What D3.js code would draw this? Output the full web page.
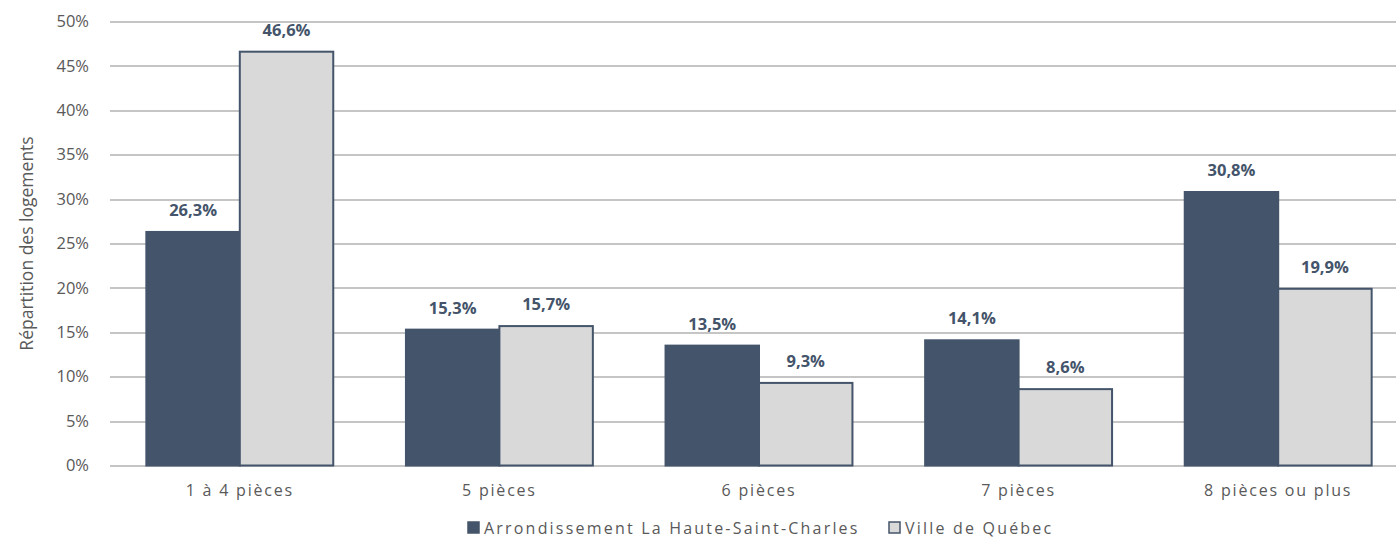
<!DOCTYPE html>
<html>
<head>
<meta charset="utf-8">
<script src="https://cdn.jsdelivr.net/npm/d3@7"></script>
<style>
  body { margin: 0; background: #fff; }
  svg text { font-family: "Open Sans", Lato, sans-serif; }
</style>
</head>
<body>
<div id="chart"></div>
<script>
// chart data
const categories = ["1 à 4 pièces", "5 pièces", "6 pièces", "7 pièces", "8 pièces ou plus"];
const seriesNames = ["Arrondissement La Haute-Saint-Charles", "Ville de Québec"];
const arrondissement = [26.3, 15.3, 13.5, 14.1, 30.8];
const villeQuebec = [46.6, 15.7, 9.3, 8.6, 19.9];
const yTicks = [0, 5, 10, 15, 20, 25, 30, 35, 40, 45, 50];

const colors = ["#44546A", "#D9D9D9"];
const edge = "#44546A";

const width = 1396;
const height = 539;
const margin = { top: 21.5, right: -12, bottom: 73.5, left: 110 };

const svg = d3.select("#chart").append("svg")
  .attr("width", width)
  .attr("height", height);

const innerW = width - margin.left - margin.right;
const innerH = height - margin.top - margin.bottom;

const g = svg.append("g")
  .attr("transform", `translate(${margin.left},${margin.top})`);

const x = d3.scaleBand()
  .domain(categories)
  .range([0, innerW])
  .paddingInner(0.28)
  .paddingOuter(0.14);

const x1 = d3.scaleBand()
  .domain(seriesNames)
  .range([0, x.bandwidth()]);

const y = d3.scaleLinear()
  .domain([0, 50])
  .range([innerH, 0]);

// grid lines
g.append("g")
  .selectAll("line")
  .data(yTicks)
  .join("line")
  .attr("x1", 0)
  .attr("x2", innerW)
  .attr("y1", d => Math.round(y(d)) + 0.5)
  .attr("y2", d => Math.round(y(d)) + 0.5)
  .attr("stroke", "#8c8c8c")
  .attr("stroke-width", 1.2);

// y axis labels
const gy = g.append("g")
  .call(d3.axisLeft(y).tickValues(yTicks).tickFormat(d => d + "%").tickSize(0).tickPadding(21));
gy.select(".domain").remove();
gy.selectAll("text")
  .attr("fill", "#595959")
  .style("font-size", "16.5px");

// x axis labels
const gx = g.append("g")
  .attr("transform", `translate(0,${innerH})`)
  .call(d3.axisBottom(x).tickSize(0).tickPadding(19));
gx.select(".domain").remove();
gx.selectAll("text")
  .attr("fill", "#595959")
  .style("font-size", "16px")
  .style("letter-spacing", "1.8px");

// bars
const rows = categories.map((c, i) => ({
  cat: c,
  vals: [
    { s: seriesNames[0], v: arrondissement[i], k: 0 },
    { s: seriesNames[1], v: villeQuebec[i], k: 1 }
  ]
}));

const groups = g.selectAll("g.grp")
  .data(rows)
  .join("g")
  .attr("class", "grp")
  .attr("transform", d => `translate(${x(d.cat)},0)`);

groups.selectAll("rect")
  .data(d => d.vals)
  .join("rect")
  .attr("x", d => x1(d.s))
  .attr("y", d => y(d.v))
  .attr("width", x1.bandwidth())
  .attr("height", d => innerH - y(d.v))
  .attr("fill", d => colors[d.k])
  .attr("stroke", edge)
  .attr("stroke-width", 2);

groups.selectAll("text.val")
  .data(d => d.vals)
  .join("text")
  .attr("class", "val")
  .attr("x", d => x1(d.s) + x1.bandwidth() / 2)
  .attr("y", d => y(d.v) - 16)
  .attr("text-anchor", "middle")
  .attr("fill", "#44546A")
  .style("font-size", "16.5px")
  .style("font-weight", "bold")
  .text(d => d.v.toFixed(1).replace(".", ",") + "%");

// y axis title
svg.append("text")
  .attr("transform", `translate(33,${margin.top + innerH / 2}) rotate(-90)`)
  .attr("text-anchor", "middle")
  .attr("fill", "#595959")
  .style("font-size", "17.5px")
  .text("Répartition des logements");

// legend
const legendX = [467, 888];
const legend = svg.append("g")
  .selectAll("g")
  .data(seriesNames)
  .join("g")
  .attr("transform", (d, i) => `translate(${legendX[i]},528)`);

legend.append("rect")
  .attr("x", 1)
  .attr("y", -6)
  .attr("width", 11)
  .attr("height", 11)
  .attr("fill", (d, i) => colors[i])
  .attr("stroke", edge)
  .attr("stroke-width", 1.5);

legend.append("text")
  .attr("x", 17)
  .attr("y", 0)
  .attr("dy", "0.35em")
  .attr("fill", "#595959")
  .style("font-size", "16px")
  .style("letter-spacing", "2.2px")
  .text(d => d);
</script>
</body>
</html>
